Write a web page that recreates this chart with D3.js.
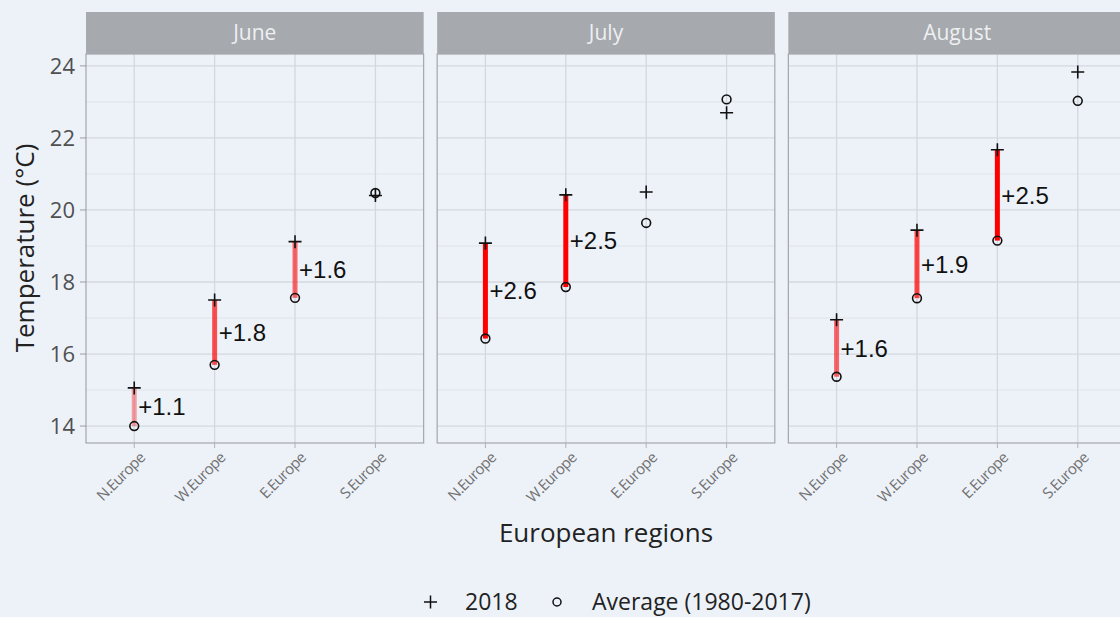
<!DOCTYPE html>
<html>
<head>
<meta charset="utf-8">
<script src="https://cdn.jsdelivr.net/npm/d3@7"></script>
<style>
  body { margin: 0; background: #edf2f9; }
  svg { display: block; font-family: "Open Sans", sans-serif; }
</style>
</head>
<body>
<div id="container"></div>
<script>
/* DATA */
const months = ["June", "July", "August"];
const regions = ["N.Europe", "W.Europe", "E.Europe", "S.Europe"];
// 2018 temperature per month, one value per region
const temp2018 = [
  [15.06, 17.5, 19.12, 20.4],
  [19.08, 20.42, 20.5, 22.7],
  [16.95, 19.44, 21.67, 23.83]
];
// 1980-2017 average
const tempAvg = [
  [14.0, 15.7, 17.56, 20.47],
  [16.43, 17.86, 19.64, 23.07],
  [15.37, 17.55, 19.15, 23.03]
];
// difference labels (null = no bar drawn)
const diffLabels = [
  ["+1.1", "+1.8", "+1.6", null],
  ["+2.6", "+2.5", null, null],
  ["+1.6", "+1.9", "+2.5", null]
];
const yTicks = [14, 16, 18, 20, 22, 24];

/* CONSTANTS */
const width = 1120, height = 617;
const plotTop = 54, plotBottom = 443, stripH = 42;

const svg = d3.select("#container").append("svg")
  .attr("width", width)
  .attr("height", height);

/* SCALES */
const panelScale = d3.scaleBand()
  .domain(months)
  .range([86, 1126])
  .paddingInner(0.0385);

const yScale = d3.scaleLinear()
  .domain([13.53, 24.33])
  .range([plotBottom, plotTop]);

const xScale = d3.scalePoint()
  .domain(regions)
  .range([0, panelScale.bandwidth()])
  .padding(0.6);

// transparency of the red bar follows the size of the gap
const alphaScale = d3.scaleLinear().domain([1.1, 2.5]).range([0.35, 1]).clamp(true);

const minorTicks = d3.range(13, 25, 1).filter(t => t % 2 === 1 && t > 13.53);

months.forEach((m, i) => {
  const g = svg.append("g").attr("transform", `translate(${panelScale(m)},0)`);
  const pw = panelScale.bandwidth();

  // grid
  g.selectAll("line.minor").data(minorTicks).join("line")
    .attr("class", "minor")
    .attr("x1", 0).attr("x2", pw)
    .attr("y1", d => yScale(d)).attr("y2", d => yScale(d))
    .attr("stroke", "#dfe3e9").attr("stroke-width", 1);
  g.selectAll("line.major").data(yTicks).join("line")
    .attr("class", "major")
    .attr("x1", 0).attr("x2", pw)
    .attr("y1", d => yScale(d)).attr("y2", d => yScale(d))
    .attr("stroke", "#d3d7de").attr("stroke-width", 1.3);
  g.selectAll("line.vgrid").data(regions).join("line")
    .attr("class", "vgrid")
    .attr("x1", d => xScale(d)).attr("x2", d => xScale(d))
    .attr("y1", plotTop).attr("y2", plotBottom)
    .attr("stroke", "#d3d7de").attr("stroke-width", 1.3);

  // panel border
  g.append("rect")
    .attr("x", 0).attr("y", plotTop).attr("width", pw).attr("height", plotBottom - plotTop)
    .attr("fill", "none").attr("stroke", "#a3a6aa").attr("stroke-width", 1.2);

  // strip
  g.append("rect")
    .attr("x", 0).attr("y", plotTop - stripH).attr("width", pw).attr("height", stripH)
    .attr("fill", "#a6a9ad");
  g.append("text")
    .attr("x", pw / 2).attr("y", plotTop - stripH / 2)
    .attr("dy", "0.35em").attr("text-anchor", "middle")
    .attr("fill", "#eef0f2").attr("font-size", 21)
    .text(m);

  // x axis ticks + labels
  g.selectAll("line.xtick").data(regions).join("line")
    .attr("class", "xtick")
    .attr("x1", d => xScale(d)).attr("x2", d => xScale(d))
    .attr("y1", plotBottom).attr("y2", plotBottom + 5)
    .attr("stroke", "#b0b3b8");
  g.selectAll("text.xlab").data(regions).join("text")
    .attr("class", "xlab")
    .attr("transform", d => `translate(${xScale(d) + 8},${plotBottom + 12}) rotate(-45)`)
    .attr("text-anchor", "end")
    .attr("dy", "0.35em")
    .attr("font-size", 15)
    .attr("fill", "#707070")
    .attr("letter-spacing", -0.6)
    .text(d => d);

  const rows = regions.map((r, j) => ({
    r, hot: temp2018[i][j], avg: tempAvg[i][j], label: diffLabels[i][j]
  }));

  // red bars
  g.selectAll("rect.bar").data(rows.filter(d => d.label)).join("rect")
    .attr("class", "bar")
    .attr("x", d => xScale(d.r) - 2.5)
    .attr("y", d => yScale(d.hot))
    .attr("width", 5)
    .attr("height", d => yScale(d.avg) - yScale(d.hot))
    .attr("fill", "red")
    .attr("fill-opacity", d => alphaScale(+d.label));

  // average circles
  g.selectAll("circle.avg").data(rows).join("circle")
    .attr("class", "avg")
    .attr("cx", d => xScale(d.r)).attr("cy", d => yScale(d.avg))
    .attr("r", 4.4)
    .attr("fill", "none").attr("stroke", "#111").attr("stroke-width", 1.6);

  // 2018 crosses
  g.selectAll("path.hot").data(rows).join("path")
    .attr("class", "hot")
    .attr("d", d => {
      const x = xScale(d.r), y = yScale(d.hot);
      return `M${x - 6.5},${y}H${x + 6.5}M${x},${y - 6.5}V${y + 6.5}`;
    })
    .attr("stroke", "#111").attr("stroke-width", 1.6);

  // difference labels
  g.selectAll("text.diff").data(rows.filter(d => d.label)).join("text")
    .attr("class", "diff")
    .attr("x", d => xScale(d.r) + 4)
    .attr("y", d => (yScale(d.hot) + yScale(d.avg)) / 2)
    .attr("dy", "0.35em")
    .attr("font-family", "Liberation Sans, Arial, sans-serif")
    .attr("font-size", 24)
    .attr("fill", "#111")
    .text(d => d.label);
});

/* Y AXIS */
const yAxis = svg.append("g").attr("transform", `translate(${panelScale(months[0])},0)`);
yAxis.selectAll("line").data(yTicks).join("line")
  .attr("x1", -6).attr("x2", 0)
  .attr("y1", d => yScale(d)).attr("y2", d => yScale(d))
  .attr("stroke", "#9a9da2");
yAxis.selectAll("text").data(yTicks).join("text")
  .attr("x", -11).attr("y", d => yScale(d))
  .attr("dy", "0.36em").attr("text-anchor", "end")
  .attr("font-size", 22).attr("fill", "#505050")
  .text(d => d);

svg.append("text")
  .attr("transform", "translate(34,248) rotate(-90)")
  .attr("text-anchor", "middle")
  .attr("font-size", 26).attr("fill", "#222")
  .text("Temperature (°C)");

svg.append("text")
  .attr("x", 606).attr("y", 542)
  .attr("text-anchor", "middle")
  .attr("font-size", 26).attr("fill", "#222")
  .text("European regions");

/* LEGEND */
const legY = 602;
const leg = svg.append("g");
leg.append("path")
  .attr("d", `M424,${legY}H437M430.5,${legY - 6.5}V${legY + 6.5}`)
  .attr("stroke", "#111").attr("stroke-width", 1.5);
leg.append("text").attr("x", 465).attr("y", legY).attr("dy", "0.35em")
  .attr("font-size", 23).attr("fill", "#222").text("2018");
leg.append("circle").attr("cx", 557).attr("cy", legY).attr("r", 4)
  .attr("fill", "none").attr("stroke", "#111").attr("stroke-width", 1.5);
leg.append("text").attr("x", 592).attr("y", legY).attr("dy", "0.35em")
  .attr("font-size", 23).attr("fill", "#222").text("Average (1980-2017)");
</script>
</body>
</html>
